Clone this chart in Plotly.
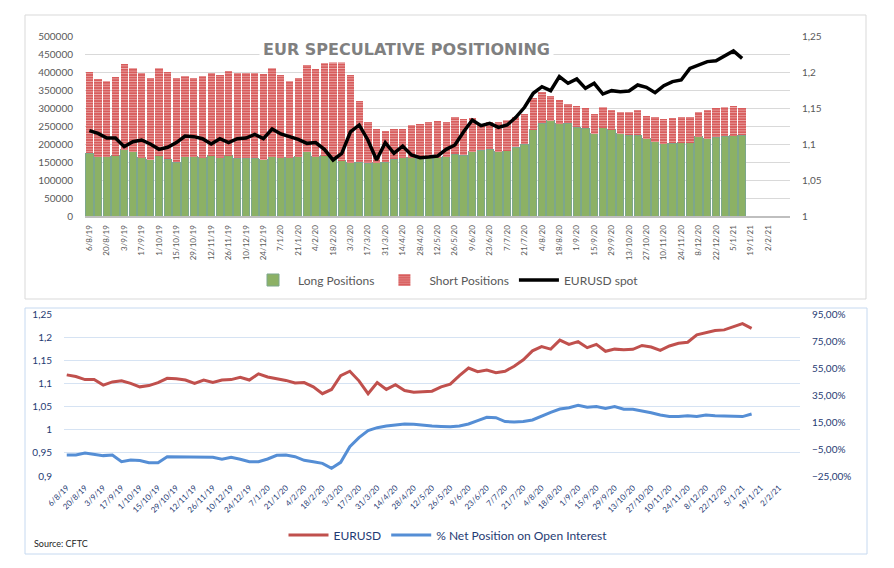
import pandas as pd
import plotly.graph_objects as go

# Weekly CFTC report dates (category axis, 81 slots, data for the first 76)
week_dates = pd.date_range('2019-08-06', periods=81, freq='7D')
dates = [f'{d.day}/{d.month}/{d.year % 100}' for d in week_dates]

# Speculative long / short contracts
long_positions = [
    174000, 164000, 164000, 168000, 184000, 178000, 162000, 156000, 168000, 158000,
    150000, 164000, 164000, 162000, 167000, 162000, 167000, 161000, 161000, 161000,
    156000, 164000, 162000, 162000, 164000, 178000, 165000, 167000, 160000, 153000,
    148000, 150000, 146000, 148000, 150000, 157000, 162000, 162000, 160000, 162000,
    162000, 164000, 172000, 169000, 179000, 183000, 186000, 178000, 181000, 191000,
    200000, 239000, 257000, 265000, 256000, 257000, 247000, 244000, 229000, 245000,
    240000, 229000, 225000, 225000, 215000, 206000, 201000, 202000, 204000, 203000,
    220000, 215000, 219000, 221000, 223000, 225000]
short_positions = [
    226000, 216000, 210000, 217000, 238000, 232000, 234000, 226000, 242000, 242000,
    234000, 225000, 220000, 227000, 229000, 229000, 235000, 235000, 235000, 235000,
    238000, 247000, 229000, 212000, 218000, 241000, 243000, 257000, 273000, 277000,
    243000, 169000, 115000, 94000, 85000, 85000, 80000, 90000, 96000, 99000,
    101000, 97000, 102000, 100000, 93000, 73000, 75000, 83000, 86000, 83000,
    83000, 88000, 88000, 68000, 66000, 54000, 59000, 56000, 54000, 57000,
    54000, 60000, 64000, 69000, 63000, 68000, 68000, 70000, 70000, 71000,
    69000, 79000, 81000, 81000, 83000, 75000]

# EURUSD spot
eurusd = [
    1.1185, 1.1148, 1.1083, 1.1083, 1.0963, 1.1032, 1.1056, 1.1000, 1.0926, 1.0954,
    1.1019, 1.1111, 1.1102, 1.1074, 1.1000, 1.1074, 1.1019, 1.1074, 1.1083, 1.1134,
    1.1074, 1.1208, 1.1139, 1.1102, 1.1065, 1.1009, 1.1019, 1.0926, 1.0778, 1.0870,
    1.1170, 1.1264, 1.1056, 1.0778, 1.1019, 1.0870, 1.0972, 1.0847, 1.0810, 1.0820,
    1.0833, 1.0926, 1.0986, 1.1170, 1.1333, 1.1255, 1.1287, 1.1231, 1.1264, 1.1370,
    1.1510, 1.1704, 1.1796, 1.1741, 1.1935, 1.1843, 1.1903, 1.1773, 1.1843, 1.1694,
    1.1741, 1.1727, 1.1736, 1.1820, 1.1787, 1.1713, 1.1810, 1.1866, 1.1889, 1.2051,
    1.2097, 1.2144, 1.2157, 1.2222, 1.2292, 1.2190]

# % net position on open interest
net_pct_oi = [
    -9.4, -9.4, -8.0, -8.7, -9.9, -9.4, -14.4, -13.1, -13.6, -15.1,
    -15.1, -10.7, -10.7, -11.2, -10.7, -11.2, -11.2, -12.6, -11.2, -12.6,
    -14.4, -14.4, -12.4, -9.7, -9.4, -10.7, -13.4, -14.4, -15.6, -19.3,
    -14.9, -3.3, 3.4, 8.6, 10.8, 12.0, 12.8, 13.5, 13.3, 12.5,
    12.0, 11.7, 11.5, 12.0, 13.5, 16.0, 18.5, 18.2, 15.3, 15.0,
    15.3, 16.5, 19.4, 22.2, 24.6, 25.6, 27.4, 25.9, 26.4, 25.1,
    26.4, 24.4, 24.4, 23.4, 21.9, 20.2, 19.0, 19.0, 19.7, 19.0,
    20.2, 19.7, 19.4, 19.0, 19.0, 20.9]

# page body keeps its default 8px margin, so the figure is drawn 8px in
OFF = 8
W, H = 894 - OFF, 568 - OFF
FONT = 'Lato, Noto Sans, sans-serif'
GREY = '#595959'
NAVY = '#1F3B73'
n = len(eurusd)

def px(x):
    return (x - OFF) / W

def py(y):
    return 1 - (y - OFF) / H

fig = go.Figure()

# --- top chart: positioning bars + spot
fig.add_trace(go.Bar(
    x=dates[:n], y=long_positions, name='Long Positions',
    marker=dict(color='#8CB165', line=dict(color='#7DA78C', width=1)),
    xaxis='x', yaxis='y', legend='legend'))
fig.add_trace(go.Bar(
    x=dates[:n], y=short_positions, name='Short Positions',
    marker=dict(color='#D85C5C', line=dict(width=0),
                pattern=dict(shape='-', fgcolor='#FFFFFF', bgcolor='#D85C5C',
                             size=2.6, solidity=0.3)),
    xaxis='x', yaxis='y', legend='legend'))
fig.add_trace(go.Scatter(
    x=dates[:n], y=eurusd, name='EURUSD spot', mode='lines',
    line=dict(color='#000000', width=3.5),
    xaxis='x', yaxis='y2', legend='legend'))

# --- bottom chart: spot vs net positioning
fig.add_trace(go.Scatter(
    x=dates[:n], y=eurusd, name='EURUSD', mode='lines',
    line=dict(color='#C0504D', width=3),
    xaxis='x2', yaxis='y3', legend='legend2'))
fig.add_trace(go.Scatter(
    x=dates[:n], y=net_pct_oi, name='% Net Position on Open Interest', mode='lines',
    line=dict(color='#558ED5', width=3),
    xaxis='x2', yaxis='y4', legend='legend2'))

tick_dates = dates[:79:2]

fig.update_layout(
    width=W, height=H, autosize=False,
    margin=dict(l=0, r=0, t=0, b=0, autoexpand=False),
    paper_bgcolor='white', plot_bgcolor='white',
    font=dict(family=FONT, color=GREY),
    separators=',.',
    barmode='stack', bargap=0.16,
    xaxis=dict(domain=[px(85), px(790)], anchor='y', type='category',
               categoryorder='array', categoryarray=dates, range=[-0.5, 80.5],
               tickmode='array', tickvals=tick_dates, tickangle=-90,
               tickfont=dict(size=8, color=GREY), showgrid=False,
               showline=True, linecolor='#BFBFBF', linewidth=2,
               ticks='outside', ticklen=4, tickcolor='rgba(0,0,0,0)'),
    yaxis=dict(domain=[py(216), py(36)], anchor='x', range=[0, 500000], dtick=50000,
               tickformat='d', gridcolor='#D9D9D9', zeroline=False,
               tickfont=dict(size=10, color=GREY),
               ticks='outside', ticklen=9, tickcolor='rgba(0,0,0,0)'),
    yaxis2=dict(overlaying='y', side='right', anchor='x', range=[1, 1.25], dtick=0.05,
                tickformat='.2~f', showgrid=False, zeroline=False,
                tickfont=dict(size=10, color=GREY),
                ticks='outside', ticklen=9, tickcolor='rgba(0,0,0,0)'),
    xaxis2=dict(domain=[px(64), px(800)], anchor='y3', type='category',
                categoryorder='array', categoryarray=dates, range=[-0.3, 80.3],
                tickmode='array', tickvals=tick_dates, tickangle=-45,
                tickfont=dict(size=8, color=NAVY), showgrid=False, showline=False,
                ticks='outside', ticklen=3, tickcolor='rgba(0,0,0,0)'),
    yaxis3=dict(domain=[py(476), py(314)], anchor='x2', range=[0.9, 1.25], dtick=0.05,
                tickformat='.2~f', gridcolor='#D6E3F3', zeroline=False,
                tickfont=dict(size=10, color=NAVY),
                ticks='outside', ticklen=9, tickcolor='rgba(0,0,0,0)'),
    yaxis4=dict(overlaying='y3', side='right', anchor='x2', range=[-25, 95],
                tick0=-25, dtick=20,
                tickformat='.2f', ticksuffix='%', showgrid=False, zeroline=False,
                tickfont=dict(size=10, color=NAVY),
                ticks='outside', ticklen=9, tickcolor='rgba(0,0,0,0)'),
    legend=dict(orientation='h', x=px(446), xanchor='center', y=py(280), yanchor='middle',
                font=dict(size=12, color=GREY), bgcolor='rgba(0,0,0,0)',
                itemwidth=40, traceorder='normal'),
    legend2=dict(orientation='h', x=px(448), xanchor='center', y=py(535), yanchor='middle',
                 font=dict(size=12, color=NAVY), bgcolor='rgba(0,0,0,0)',
                 itemwidth=40, traceorder='normal'),
)

# chart frames
fig.add_shape(type='rect', xref='paper', yref='paper',
              x0=px(25), x1=px(866), y0=py(299), y1=py(15),
              line=dict(color='#D9D9D9', width=1), layer='below')
fig.add_shape(type='rect', xref='paper', yref='paper',
              x0=px(25), x1=px(867), y0=py(554), y1=py(308),
              line=dict(color='#C6D9F0', width=1), layer='below')

# title sits on the top gridline
fig.add_annotation(text='<b>EUR SPECULATIVE POSITIONING</b>', xref='paper', yref='paper',
                   x=px(406), y=py(36), showarrow=False, bgcolor='white',
                   borderpad=3, font=dict(family='DejaVu Sans, sans-serif',
                                          size=16, color='#808080'))
fig.add_annotation(text='Source: CFTC', xref='paper', yref='paper',
                   x=px(32), y=py(543), xanchor='left', yanchor='middle',
                   showarrow=False, font=dict(size=9, color='#262626'))

fig.write_html('out.html')
